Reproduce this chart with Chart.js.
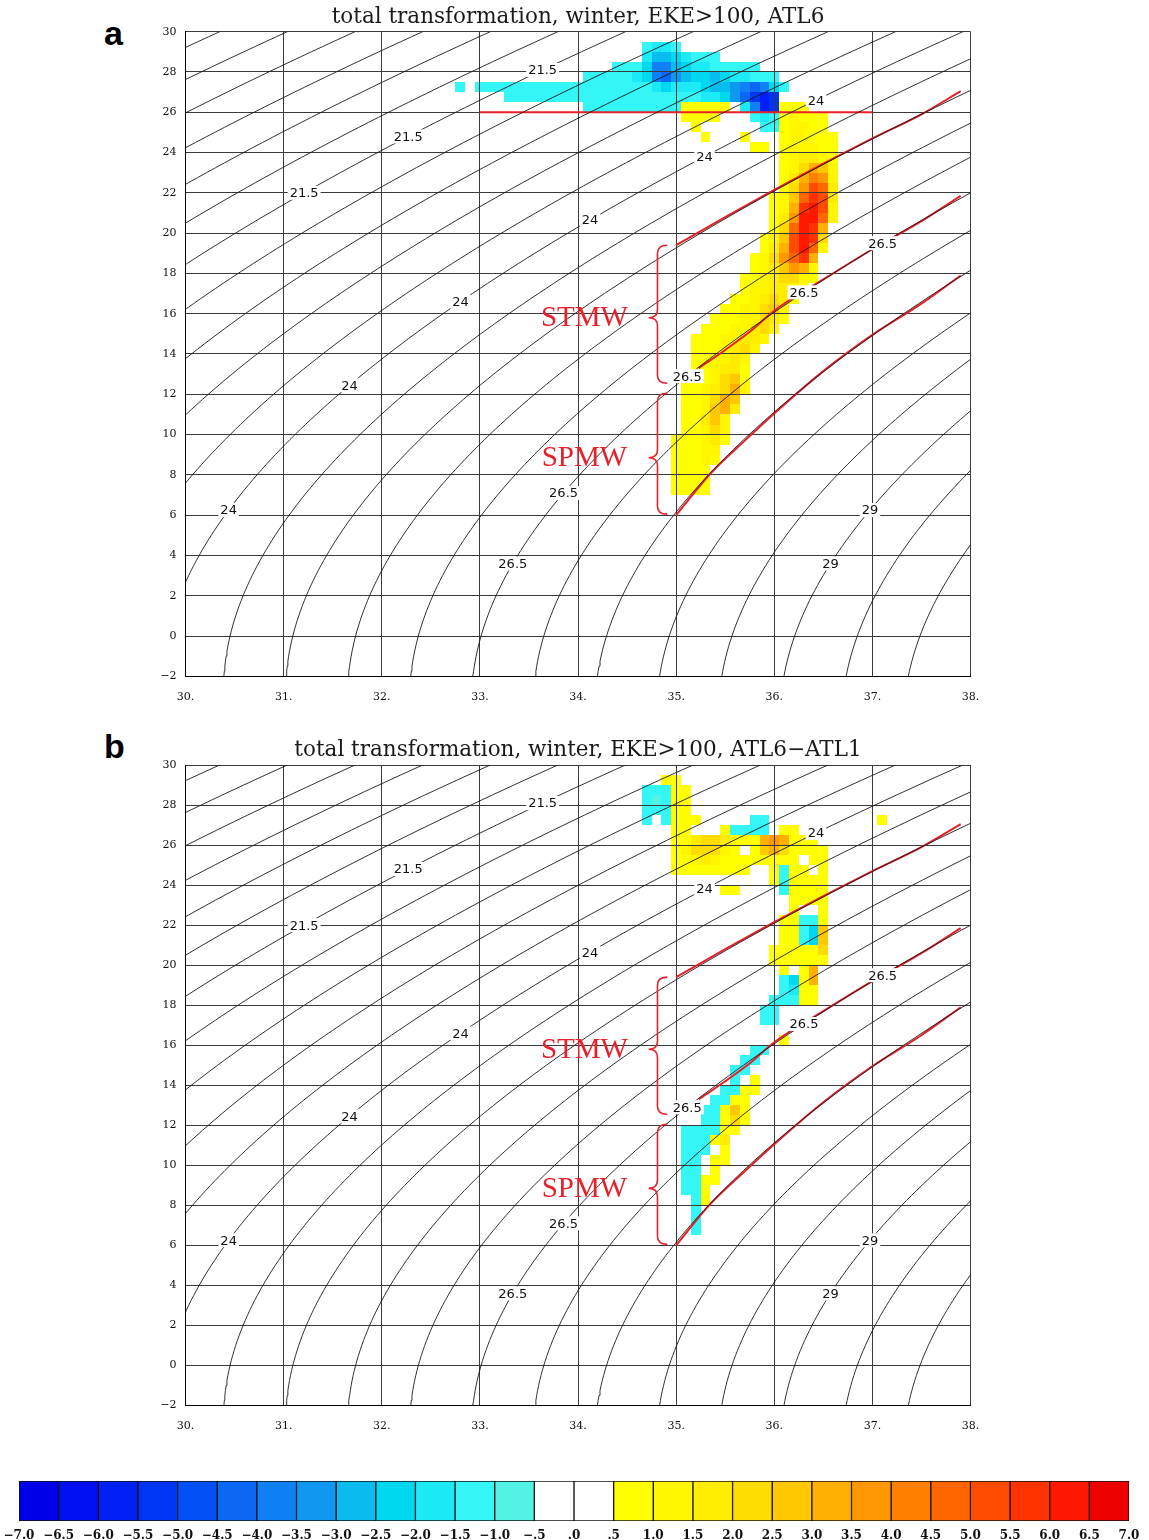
<!DOCTYPE html>
<html><head><meta charset="utf-8">
<script src="https://cdn.jsdelivr.net/npm/chart.js@4.4.1/dist/chart.umd.min.js"></script>
<style>
html,body{margin:0;padding:0;background:#fff;}
#wrap{position:relative;width:1149px;height:1540px;overflow:hidden;}
canvas{position:absolute;left:0;}
.letter{position:absolute;font:bold 34px "Liberation Sans",Arial,sans-serif;color:#000;line-height:1;}
</style></head><body>
<div id="wrap">
  <div class="letter" style="left:104px;top:16px">a</div>
  <div class="letter" style="left:104px;top:729px">b</div>
  <canvas id="ca" width="1149" height="720" style="top:0;width:1149px;height:720px"></canvas>
  <canvas id="cb" width="1149" height="720" style="top:730px;width:1149px;height:720px"></canvas>
  <canvas id="cc" width="1149" height="74" style="top:1466px;width:1149px;height:74px"></canvas>
</div>
<script>
// ---------------- data ----------------
const salinityTicks = [30, 31, 32, 33, 34, 35, 36, 37, 38];
const salinityTickLabels = ['30.', '31.', '32.', '33.', '34.', '35.', '36.', '37.', '38.'];
const temperatureTicks = [-2, 0, 2, 4, 6, 8, 10, 12, 14, 16, 18, 20, 22, 24, 26, 28, 30];
const temperatureTickLabels = ['\u22122', '0', '2', '4', '6', '8', '10', '12', '14', '16', '18', '20', '22', '24', '26', '28', '30'];

// density (sigma) contour levels drawn in the background
const isopycnalLevels = [17, 17.5, 18, 18.5, 19, 19.5, 20, 20.5, 21, 21.5, 22, 22.5, 23, 23.5, 24, 24.5,
  25, 25.5, 26, 26.5, 27, 27.5, 28, 28.5, 29, 29.5, 30, 30.5, 31];
// contour labels: [level, temperature, text]
const contourLabels = [
  [21.5, 28.1, '21.5'], [21.5, 24.8, '21.5'], [21.5, 22.0, '21.5'],
  [24, 26.6, '24'], [24, 23.8, '24'], [24, 20.65, '24'], [24, 16.6, '24'], [24, 12.45, '24'], [24, 6.25, '24'],
  [26.5, 19.5, '26.5'], [26.5, 17.06, '26.5'], [26.5, 12.9, '26.5'], [26.5, 7.1, '26.5'], [26.5, 3.6, '26.5'],
  [29, 6.25, '29'], [29, 3.6, '29']
];

// red curves (salinity, temperature)
const redUpper = [[35.0, 19.4], [35.5, 20.8], [36.0, 22.15], [36.5, 23.45], [37.0, 24.7], [37.5, 25.9], [37.9, 27.05]];
const redMiddle = [[35.23, 13.3], [35.5, 14.2], [35.75, 15.1], [36.0, 16.15], [36.5, 17.7], [37.0, 19.2], [37.5, 20.6], [37.9, 21.85]];
const redLower = [[35.0, 6.0], [35.35, 8.07], [35.7, 9.7], [36.0, 11.05], [36.5, 13.15], [37.0, 14.95], [37.5, 16.5], [37.9, 17.9]];
const redLevel26 = [[33.0, 26.0], [37.0, 26.0]];

// water-mass brackets
const bracketNames = ['STMW', 'SPMW'];
const bracketTop = [19.4, 12.05];
const bracketBottom = [12.55, 6.05];
const bracketTip = [15.8, 8.85];

// colour classes of the colour bar
const colorBinEdges = [-7, -6.5, -6, -5.5, -5, -4.5, -4, -3.5, -3, -2.5, -2, -1.5, -1, -0.5, 0,
  0.5, 1, 1.5, 2, 2.5, 3, 3.5, 4, 4.5, 5, 5.5, 6, 6.5, 7];
const colorbarTickLabels = ['\u22127.0', '\u22126.5', '\u22126.0', '\u22125.5', '\u22125.0', '\u22124.5', '\u22124.0',
  '\u22123.5', '\u22123.0', '\u22122.5', '\u22122.0', '\u22121.5', '\u22121.0', '\u2212.5', '.0', '.5',
  '1.0', '1.5', '2.0', '2.5', '3.0', '3.5', '4.0', '4.5', '5.0', '5.5', '6.0', '6.5', '7.0'];
const binColors = ['#0000e8', '#0010f0', '#0020f5', '#0035f5', '#0050f5', '#0a68f5', '#1080f5',
  '#1098f0', '#08bcf0', '#00d8f0', '#1ceaf6', '#34f6f6', '#52f2e4', '#ffffff', '#ffffff',
  '#ffff00', '#fff600', '#ffec00', '#ffdc00', '#ffc800', '#ffb000', '#ff9800', '#ff8000',
  '#ff6600', '#ff4c00', '#ff3300', '#ff1800', '#ee0000'];

// transformation cells: [lower temperature of 0.5 degC row, "startSalinity:classes ..."]
// classes: a..m = +0.5..+7 (0.5 steps), A..M = -0.5..-7, '.' = empty; columns every 0.1 psu
const cellsA = [
  [29.0, '34.7:BCCB'],
  [28.5, '34.7:CEEDCBBB'],
  [28.0, '34.4:BBBDGGEDCCBBBBB'],
  [27.5, '34.1:BBBBBCDGHFEDDEDCCBBB'],
  [27.0, '32.8:B.BBBBBBBBBBBBBBBBBBCDCCCDEEFGHGDB'],
  [26.5, '33.3:BBBBBBBBBBBBBBBBBBBBCCDFHJKJ'],
  [26.0, '34.1:BBBBBBBBBBaaaaa.CGKJaaa'],
  [25.5, '35.1:aaaa...BCBabaaa'],
  [25.0, '35.2:a......BBabbaa'],
  [24.5, '35.3:a...a...abbaaa'],
  [24.0, '35.8:aa.abbbaa'],
  [23.5, '36.1:abccba'],
  [23.0, '36.1:abdfeb'],
  [22.5, '36.1:acfhgb'],
  [22.0, '36.1:adgjic'],
  [21.5, '36.0:abeikjc'],
  [21.0, '36.0:abfkljb'],
  [20.5, '36.0:acgllib'],
  [20.0, '36.0:adilkf'],
  [19.5, '35.9:abejlkd'],
  [19.0, '35.9:acfjlib'],
  [18.5, '35.8:abdgikf'],
  [18.0, '35.8:abcegfb'],
  [17.5, '35.7:aabcddba'],
  [17.0, '35.7:abbccba'],
  [16.5, '35.6:aabcdca'],
  [16.0, '35.5:aabbdeb'],
  [15.5, '35.4:aaabbdca'],
  [15.0, '35.3:aaabbcdb'],
  [14.5, '35.2:aaabbccb'],
  [14.0, '35.2:aaabcdb'],
  [13.5, '35.2:aabbcb'],
  [13.0, '35.2:aabcca'],
  [12.5, '35.1:aaabdea'],
  [12.0, '35.1:aabcdfb'],
  [11.5, '35.1:aabdfe'],
  [11.0, '35.1:aabefc'],
  [10.5, '35.1:aaceb'],
  [10.0, '35.1:aabdb'],
  [9.5, '35.0:aaabca'],
  [9.0, '35.0:aaabb'],
  [8.5, '35.0:aaaba'],
  [8.0, '35.0:aaaa'],
  [7.5, '35.0:aaaa'],
  [7.0, '35.0:aaaa']
];
const cellsB = [
  [29.0, '34.9:aa'],
  [28.5, '34.7:BBBaa'],
  [28.0, '34.7:BABaa'],
  [27.5, '34.7:BBBaa'],
  [27.0, '34.7:B.Baaa.....BB 37.1:a'],
  [26.5, '35.0:aa...aBBBB.aa'],
  [26.0, '35.0:aacddcaaafgfaaa'],
  [25.5, '35.0:abdddba.aefdaaaa'],
  [25.0, '35.0:aabcbaaaaaaaa.aa'],
  [24.5, '35.0:aaaaaaaa..aBaa.a'],
  [24.0, '36.0:aBaaaa'],
  [23.5, '35.5:aa....Baaaa'],
  [23.0, '36.2:aaaa'],
  [22.5, '36.2:a..a'],
  [22.0, '36.1:aaBBa'],
  [21.5, '36.1:aaBDe'],
  [21.0, '36.1:aaBDe'],
  [20.5, '36.0:aaaaad'],
  [20.0, '36.0:aaaaaa'],
  [19.5, '36.1:a.af'],
  [19.0, '36.1:BDaf'],
  [18.5, '36.1:BCaa'],
  [18.0, '36.0:BBBaa'],
  [17.5, '35.9:BB'],
  [17.0, '35.9:BB'],
  [16.0, '36.1:a'],
  [15.5, '35.8:BB'],
  [15.0, '35.7:BB'],
  [14.5, '35.6:BB'],
  [14.0, '35.6:B.a'],
  [13.5, '35.5:BBaa'],
  [13.0, '35.4:BBaa'],
  [12.5, '35.3:BBaea'],
  [12.0, '35.3:BBada'],
  [11.5, '35.1:BBBBaa'],
  [11.0, '35.1:BBBac'],
  [10.5, '35.1:BBB.a'],
  [10.0, '35.1:BB.aa'],
  [9.5, '35.1:BB.a'],
  [9.0, '35.1:BBaa'],
  [8.5, '35.1:BBa'],
  [8.0, '35.2:Ba'],
  [7.5, '35.2:B'],
  [7.0, '35.2:B'],
  [6.5, '35.2:B']
];

// ---------------- helpers ----------------
const CELL_DS = 0.1, CELL_DT = 0.5;
const RED = '#e8202a';
// the figure's density scale is slightly stretched relative to EOS-80 sigma-0
const SIGMA_PIVOT = 26.45, SIGMA_STRETCH = 1.032;

// UNESCO EOS-80 one-atmosphere density anomaly
function sigmaTheta(S, T) {
  const rw = 999.842594 + 6.793952e-2 * T - 9.095290e-3 * T * T + 1.001685e-4 * T ** 3
    - 1.120083e-6 * T ** 4 + 6.536332e-9 * T ** 5;
  const A = 8.24493e-1 - 4.0899e-3 * T + 7.6438e-5 * T * T - 8.2467e-7 * T ** 3 + 5.3875e-9 * T ** 4;
  const B = -5.72466e-3 + 1.0227e-4 * T - 1.6546e-6 * T * T;
  const C = 4.8314e-4;
  return rw + A * S + B * S ** 1.5 + C * S * S - 1000;
}
function salinityOn(level, T) {
  const target = SIGMA_PIVOT + (level - SIGMA_PIVOT) * SIGMA_STRETCH;
  let S = 35;
  for (let i = 0; i < 30; i++) {
    const f = sigmaTheta(S, T) - target;
    const d = (sigmaTheta(S + 1e-3, T) - sigmaTheta(S - 1e-3, T)) / 2e-3;
    S -= f / d;
  }
  return S;
}
function isopycnal(level) {
  const pts = [];
  for (let i = 0; i <= 140; i++) {
    const T = -2.5 + i * 0.25;
    const S = salinityOn(level, T);
    if (S > 24 && S < 44) pts.push({x: S, y: T});
  }
  return pts;
}
function decodeCells(rows) {
  const out = [];
  for (const [t, spec] of rows) {
    for (const run of spec.split(' ')) {
      const [s0, chars] = run.split(':');
      const start = parseFloat(s0);
      [...chars].forEach((ch, k) => {
        if (ch === '.') return;
        const code = ch.toLowerCase().charCodeAt(0) - 97;
        const mag = 0.75 + 0.5 * code;
        out.push({s: start + CELL_DS * k, t: t, v: ch === ch.toLowerCase() ? mag : -mag});
      });
    }
  }
  return out;
}
function colorForValue(v) {
  let idx = Math.floor((v - colorBinEdges[0]) / 0.5);
  idx = Math.max(0, Math.min(binColors.length - 1, idx));
  return binColors[idx];
}
const toXY = arr => arr.map(p => ({x: p[0], y: p[1]}));

const tsPlugin = {
  id: 'tsPlugin',
  beforeDraw(chart, args, opts) {
    const {ctx, chartArea: a, scales: {x, y}} = chart;
    ctx.save();
    ctx.beginPath(); ctx.rect(a.left, a.top, a.right - a.left, a.bottom - a.top); ctx.clip();
    for (const c of opts.cells) {
      const x0 = Math.round(x.getPixelForValue(c.s - CELL_DS / 2));
      const x1 = Math.round(x.getPixelForValue(c.s + CELL_DS / 2));
      const y0 = Math.round(y.getPixelForValue(c.t + CELL_DT));
      const y1 = Math.round(y.getPixelForValue(c.t));
      ctx.fillStyle = colorForValue(c.v);
      ctx.fillRect(x0, y0, x1 - x0, y1 - y0);
    }
    ctx.restore();
  },
  afterDatasetsDraw(chart) {
    const {ctx, scales: {x, y}} = chart;
    ctx.save();
    ctx.font = '13px "DejaVu Sans", sans-serif';
    ctx.textAlign = 'center';
    ctx.textBaseline = 'middle';
    for (const [lev, t, txt] of contourLabels) {
      const px = x.getPixelForValue(salinityOn(lev, t));
      const py = y.getPixelForValue(t);
      const w = ctx.measureText(txt).width + 4;
      ctx.fillStyle = '#fff';
      ctx.fillRect(px - w / 2, py - 7, w, 14);
      ctx.fillStyle = '#111';
      ctx.fillText(txt, px, py + 1);
    }
    ctx.restore();
  },
  afterDraw(chart, args, opts) {
    const {ctx, chartArea: a, scales: {x, y}} = chart;
    ctx.save();
    // title centred over the plotting area
    ctx.fillStyle = '#1a1a1a';
    ctx.font = '21.5px "DejaVu Serif", serif';
    ctx.textAlign = 'center'; ctx.textBaseline = 'middle';
    ctx.fillText(opts.title, (a.left + a.right) / 2, opts.titleY);
    // brackets
    ctx.strokeStyle = RED; ctx.fillStyle = RED; ctx.lineWidth = 1.6;
    const xEnd = x.getPixelForValue(34.91), xBar = x.getPixelForValue(34.81), xTip = x.getPixelForValue(34.72);
    const xText = x.getPixelForValue(34.065);
    ctx.font = '29px "Liberation Serif", "Times New Roman", serif';
    bracketNames.forEach((name, i) => {
      const yT = y.getPixelForValue(bracketTop[i]);
      const yB = y.getPixelForValue(bracketBottom[i]);
      const yM = y.getPixelForValue(bracketTip[i]);
      const r = 8;
      ctx.beginPath();
      ctx.moveTo(xEnd, yT);
      ctx.quadraticCurveTo(xBar, yT, xBar, yT + r);
      ctx.lineTo(xBar, yM - r);
      ctx.quadraticCurveTo(xBar, yM, xTip, yM);
      ctx.quadraticCurveTo(xBar, yM, xBar, yM + r);
      ctx.lineTo(xBar, yB - r);
      ctx.quadraticCurveTo(xBar, yB, xEnd, yB);
      ctx.stroke();
      ctx.fillText(name, xText, yM + 1);
    });
    ctx.restore();
  }
};

function makeTS(id, title, cells, redLines, titleY, areaTop, areaBottom) {
  const datasets = isopycnalLevels.map(l => ({
    data: isopycnal(l), showLine: true, pointRadius: 0, borderColor: '#1a1a1a', borderWidth: 0.9, tension: 0
  }));
  redLines.forEach(r => datasets.push({
    data: toXY(r), showLine: true, pointRadius: 0, borderColor: RED, borderWidth: 2,
    cubicInterpolationMode: 'monotone'
  }));
  const tickFont = {family: '"DejaVu Serif", serif', size: 11};
  const H = 720;
  return new Chart(document.getElementById(id), {
    type: 'scatter',
    data: {datasets},
    options: {
      responsive: false, animation: false, events: [],
      layout: {padding: {left: 140.5, right: 178.5, top: areaTop, bottom: H - areaBottom - 40}},
      plugins: {
        legend: {display: false}, tooltip: {enabled: false}, title: {display: false},
        tsPlugin: {cells: decodeCells(cells), title: title, titleY: titleY}
      },
      scales: {
        x: {type: 'linear', min: 30, max: 38,
          afterBuildTicks: s => { s.ticks = salinityTicks.map(v => ({value: v})); },
          afterFit: s => { s.height = 40; },
          ticks: {callback: (v, i) => salinityTickLabels[i], font: tickFont, color: '#111', padding: 14, maxRotation: 0, autoSkip: false},
          grid: {color: '#3a3a3a', lineWidth: 1, drawTicks: false},
          border: {color: '#000', width: 1}},
        y: {type: 'linear', min: -2, max: 30,
          afterBuildTicks: s => { s.ticks = temperatureTicks.map(v => ({value: v})); },
          afterFit: s => { s.width = 45; },
          ticks: {callback: (v, i) => temperatureTickLabels[i], font: tickFont, color: '#111', padding: 9, autoSkip: false},
          grid: {color: '#3a3a3a', lineWidth: 1, drawTicks: false},
          border: {color: '#000', width: 1}}
      }
    },
    plugins: [tsPlugin]
  });
}

makeTS('ca', 'total transformation, winter, EKE>100, ATL6', cellsA,
  [redLevel26, redUpper, redMiddle, redLower], 17, 31.7, 676.3);
makeTS('cb', 'total transformation, winter, EKE>100, ATL6\u2212ATL1', cellsB,
  [redUpper, redMiddle, redLower], 20, 35, 675.5);

// ---------------- colour bar ----------------
new Chart(document.getElementById('cc'), {
  type: 'bar',
  data: {
    labels: ['bar'],
    datasets: binColors.map((c, i) => ({
      data: [[colorBinEdges[i], colorBinEdges[i + 1]]], backgroundColor: c, borderColor: '#111',
      borderWidth: 1, borderSkipped: false, grouped: false, barPercentage: 1, categoryPercentage: 1
    }))
  },
  options: {
    indexAxis: 'y', responsive: false, animation: false, events: [],
    layout: {padding: {left: 19, right: 20, top: 15, bottom: 0}},
    plugins: {legend: {display: false}, tooltip: {enabled: false}},
    scales: {
      x: {type: 'linear', min: -7, max: 7,
        afterBuildTicks: s => { s.ticks = colorBinEdges.map(v => ({value: v})); },
        afterFit: s => { s.height = 19; },
        ticks: {callback: (v, i) => colorbarTickLabels[i], autoSkip: false, maxRotation: 0, padding: 0,
          font: {family: '"DejaVu Serif", serif', size: 12, weight: 'bold'}, color: '#111'},
        grid: {display: false}, border: {display: false}},
      y: {display: false}
    }
  }
});
</script>
</body></html>
